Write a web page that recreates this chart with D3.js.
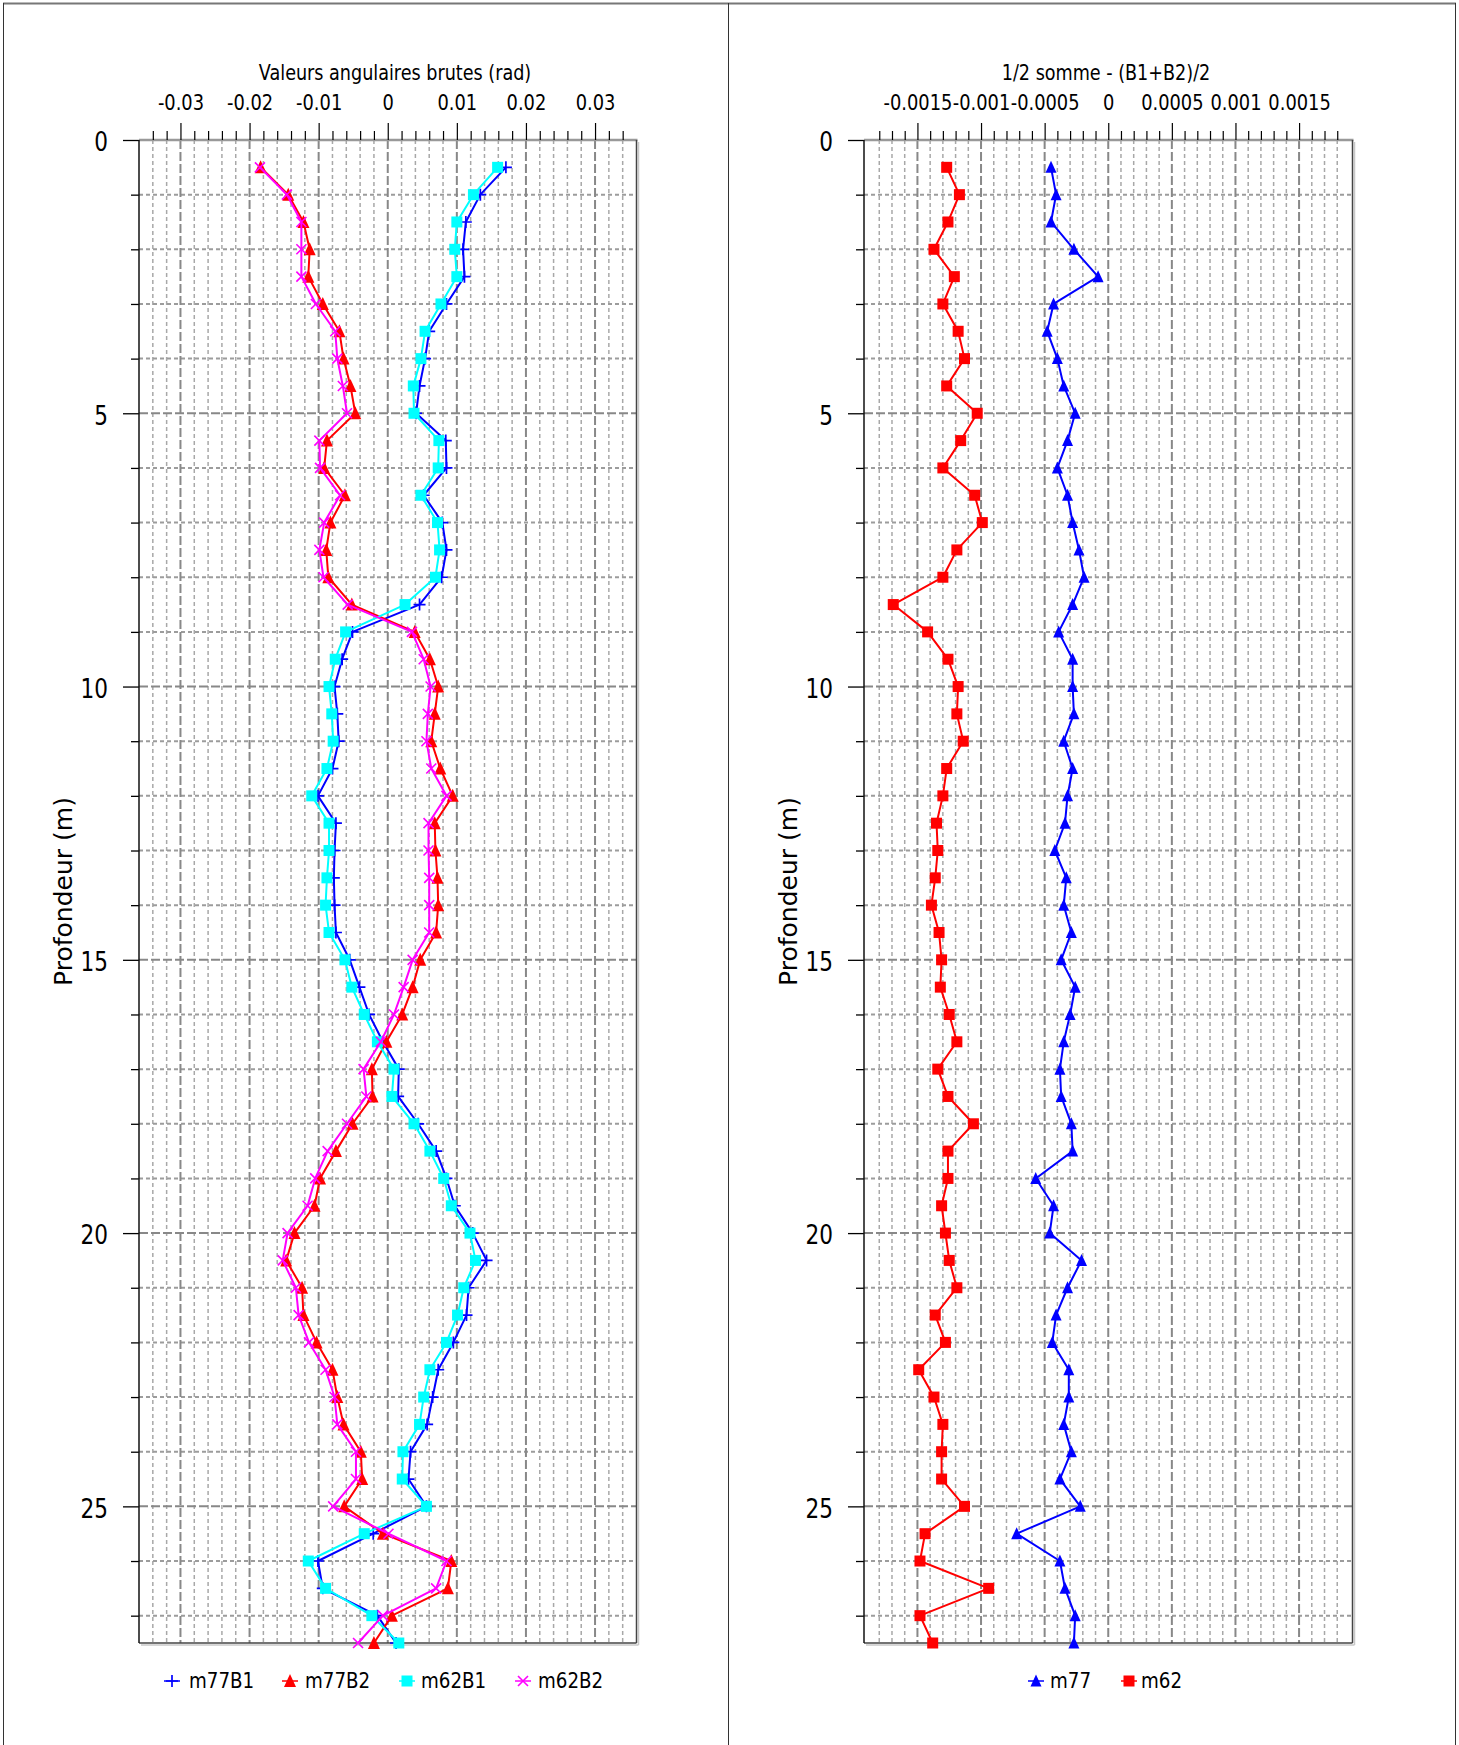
<!DOCTYPE html>
<html><head><meta charset="utf-8">
<script src="https://cdn.jsdelivr.net/npm/d3@7"></script>
<style>html,body{margin:0;padding:0;background:#fff;}svg{display:block;}</style>
</head><body>
<script>
// ---------- DATA ----------
const depth = [0.5,1,1.5,2,2.5,3,3.5,4,4.5,5,5.5,6,6.5,7,7.5,8,8.5,9,9.5,10,10.5,11,11.5,12,12.5,13,13.5,14,14.5,15,15.5,16,16.5,17,17.5,18,18.5,19,19.5,20,20.5,21,21.5,22,22.5,23,23.5,24,24.5,25,25.5,26,26.5,27,27.5];

const m77B1 = [0.0171,0.0134,0.0113,0.0109,0.0111,0.0085,0.0060,0.0054,0.0046,0.0041,0.0084,0.0085,0.0052,0.0079,0.0085,0.0078,0.0046,-0.0051,-0.0066,-0.0077,-0.0073,-0.0071,-0.0080,-0.0101,-0.0075,-0.0077,-0.0078,-0.0077,-0.0075,-0.0055,-0.0041,-0.0027,-0.0007,0.0016,0.0015,0.0044,0.0070,0.0085,0.0097,0.0123,0.0143,0.0117,0.0114,0.0095,0.0073,0.0065,0.0057,0.0033,0.0030,0.0056,-0.0021,-0.0101,-0.0094,-0.0015,0.0012];
const m77B2 = [-0.0184,-0.0144,-0.0122,-0.0113,-0.0115,-0.0094,-0.0070,-0.0064,-0.0054,-0.0047,-0.0088,-0.0092,-0.0062,-0.0083,-0.0089,-0.0086,-0.0052,0.0039,0.0061,0.0073,0.0068,0.0063,0.0076,0.0094,0.0068,0.0069,0.0072,0.0073,0.0070,0.0047,0.0036,0.0021,-0.0002,-0.0023,-0.0022,-0.0051,-0.0075,-0.0098,-0.0106,-0.0135,-0.0147,-0.0124,-0.0122,-0.0103,-0.0080,-0.0073,-0.0064,-0.0039,-0.0037,-0.0063,-0.0007,0.0092,0.0087,0.0006,-0.0020];
const m62B1 = [0.0159,0.0124,0.0100,0.0097,0.0100,0.0077,0.0054,0.0048,0.0037,0.0038,0.0074,0.0073,0.0048,0.0072,0.0075,0.0069,0.0025,-0.0061,-0.0076,-0.0085,-0.0081,-0.0079,-0.0088,-0.0110,-0.0085,-0.0085,-0.0088,-0.0090,-0.0085,-0.0062,-0.0052,-0.0034,-0.0015,0.0009,0.0006,0.0038,0.0061,0.0081,0.0092,0.0119,0.0127,0.0110,0.0101,0.0085,0.0061,0.0052,0.0046,0.0022,0.0021,0.0056,-0.0034,-0.0115,-0.0090,-0.0023,0.0016];
const m62B2 = [-0.0185,-0.0146,-0.0125,-0.0125,-0.0125,-0.0104,-0.0076,-0.0073,-0.0065,-0.0059,-0.0099,-0.0098,-0.0069,-0.0092,-0.0099,-0.0093,-0.0058,0.0035,0.0052,0.0062,0.0058,0.0056,0.0063,0.0085,0.0059,0.0059,0.0060,0.0060,0.0060,0.0036,0.0023,0.0009,-0.0010,-0.0035,-0.0031,-0.0059,-0.0087,-0.0105,-0.0116,-0.0145,-0.0152,-0.0133,-0.0129,-0.0114,-0.0090,-0.0077,-0.0073,-0.0046,-0.0046,-0.0079,0.0001,0.0085,0.0070,-0.0007,-0.0043];

const m77 = [-0.00045,-0.00041,-0.00045,-0.00027,-0.00008,-0.00043,-0.00048,-0.00040,-0.00035,-0.00026,-0.00032,-0.00040,-0.00032,-0.00028,-0.00023,-0.00019,-0.00028,-0.00039,-0.00028,-0.00028,-0.00027,-0.00035,-0.00028,-0.00032,-0.00034,-0.00042,-0.00033,-0.00035,-0.00029,-0.00037,-0.00026,-0.00030,-0.00035,-0.00038,-0.00037,-0.00029,-0.00028,-0.00057,-0.00043,-0.00046,-0.00021,-0.00032,-0.00041,-0.00044,-0.00031,-0.00031,-0.00035,-0.00029,-0.00038,-0.00022,-0.00072,-0.00038,-0.00034,-0.00026,-0.00027];
const m62 = [-0.00127,-0.00117,-0.00126,-0.00137,-0.00121,-0.00130,-0.00118,-0.00113,-0.00127,-0.00103,-0.00116,-0.00130,-0.00105,-0.00099,-0.00119,-0.00130,-0.00169,-0.00142,-0.00126,-0.00118,-0.00119,-0.00114,-0.00127,-0.00130,-0.00135,-0.00134,-0.00136,-0.00139,-0.00133,-0.00131,-0.00132,-0.00125,-0.00119,-0.00134,-0.00126,-0.00106,-0.00126,-0.00126,-0.00131,-0.00128,-0.00125,-0.00119,-0.00136,-0.00128,-0.00149,-0.00137,-0.00130,-0.00131,-0.00131,-0.00113,-0.00144,-0.00148,-0.00094,-0.00148,-0.00138];

const leftXTicks = [-0.03,-0.02,-0.01,0,0.01,0.02,0.03];
const rightXTicks = [-0.0015,-0.001,-0.0005,0,0.0005,0.001,0.0015];
const yTicks = [0,5,10,15,20,25];
const leftTitle = "Valeurs angulaires brutes (rad)";
const rightTitle = "1/2 somme - (B1+B2)/2";
const yTitle = "Profondeur (m)";

// ---------- DRAWING ----------
const W = 1459, H = 1745;
const FONT = "'DejaVu Sans', Verdana, sans-serif";
const svg = d3.select("body").append("svg").attr("width", W).attr("height", H);

// outer borders
svg.append("line").attr("x1",3).attr("x2",1456).attr("y1",3.5).attr("y2",3.5).attr("stroke","#777").attr("stroke-width",2);
[3.5, 728.5, 1455.5].forEach(x => svg.append("line").attr("x1",x).attr("x2",x).attr("y1",3).attr("y2",H).attr("stroke","#333").attr("stroke-width",1));

function label(g, x, y, s, size, sx, anchor) {
  g.append("g").attr("transform", `translate(${x},${y}) scale(${sx},1)`)
    .append("text").attr("text-anchor", anchor || "middle")
    .attr("font-family", FONT).attr("font-size", size).attr("fill", "#000").text(s);
}
const fmt = d => d === 0 ? "0" : String(+d.toFixed(5));

function panel(cfg) {
  const g = svg.append("g");
  const x = d3.scaleLinear().domain(cfg.xDomain).range([cfg.x0, cfg.x1]);
  const y = d3.scaleLinear().domain([0, 27.5]).range([140, 1643]);
  const [y0, y1] = y.range();
  const minorX = d3.range(Math.round(cfg.xDomain[0]/cfg.minorStep)+1, Math.round(cfg.xDomain[1]/cfg.minorStep)).map(i => +(i*cfg.minorStep).toFixed(6));
  const isMajorX = v => Math.abs(v/cfg.majorStep - Math.round(v/cfg.majorStep)) < 1e-6;
  const minorY = d3.range(1, 28);

  // gridlines
  const grid = g.append("g");
  minorX.filter(v => !isMajorX(v)).forEach(v => grid.append("line")
    .attr("x1", x(v)).attr("x2", x(v)).attr("y1", y0).attr("y2", y1)
    .attr("stroke", "#a8a8a8").attr("stroke-width", 1.5).attr("stroke-dasharray", "4,3"));
  minorY.filter(v => v % 5 !== 0).forEach(v => grid.append("line")
    .attr("x1", cfg.x0).attr("x2", cfg.x1).attr("y1", y(v)).attr("y2", y(v))
    .attr("stroke", "#9c9c9c").attr("stroke-width", 2).attr("stroke-dasharray", "4,3"));
  minorX.filter(isMajorX).forEach(v => grid.append("line")
    .attr("x1", x(v)).attr("x2", x(v)).attr("y1", y0).attr("y2", y1)
    .attr("stroke", "#888").attr("stroke-width", 2).attr("stroke-dasharray", "9,3"));
  minorY.filter(v => v % 5 === 0).forEach(v => grid.append("line")
    .attr("x1", cfg.x0).attr("x2", cfg.x1).attr("y1", y(v)).attr("y2", y(v))
    .attr("stroke", "#888").attr("stroke-width", 2).attr("stroke-dasharray", "9,3"));

  // frame
  g.append("line").attr("x1", cfg.x0).attr("x2", cfg.x1+1).attr("y1", y0).attr("y2", y0).attr("stroke", "#999").attr("stroke-width", 2.5);
  g.append("line").attr("x1", cfg.x1+2).attr("x2", cfg.x1+2).attr("y1", y0+2).attr("y2", y1+2).attr("stroke", "#c8c8c8").attr("stroke-width", 1.5);
  g.append("line").attr("x1", cfg.x0+2).attr("x2", cfg.x1+2).attr("y1", y1+2).attr("y2", y1+2).attr("stroke", "#c8c8c8").attr("stroke-width", 1.5);
  g.append("line").attr("x1", cfg.x1).attr("x2", cfg.x1).attr("y1", y0).attr("y2", y1).attr("stroke", "#444").attr("stroke-width", 1.5);
  g.append("line").attr("x1", cfg.x0).attr("x2", cfg.x1).attr("y1", y1).attr("y2", y1).attr("stroke", "#444").attr("stroke-width", 1.5);

  // top axis
  const ax1 = g.append("g").attr("transform", `translate(0,${y0})`)
    .call(d3.axisTop(x).tickValues(minorX.filter(v => !isMajorX(v))).tickSize(9).tickFormat(""));
  const ax2 = g.append("g").attr("transform", `translate(0,${y0})`)
    .call(d3.axisTop(x).tickValues(cfg.xTicks).tickSize(17).tickFormat(fmt));
  [ax1, ax2].forEach(a => { a.select(".domain").remove(); a.selectAll("line").attr("stroke", "#000").attr("stroke-width", 1.2); });
  ax2.selectAll("text").attr("font-family", FONT).attr("font-size", 21).attr("fill", "#000")
    .attr("y", -30).attr("dy", 0).attr("transform", "scale(0.85,1)");

  // left axis
  const ay1 = g.append("g").attr("transform", `translate(${cfg.x0},0)`)
    .call(d3.axisLeft(y).tickValues(minorY.filter(v => v % 5 !== 0)).tickSize(8).tickFormat(""));
  const ay2 = g.append("g").attr("transform", `translate(${cfg.x0},0)`)
    .call(d3.axisLeft(y).tickValues(yTicks).tickSize(16).tickFormat(d3.format("d")));
  [ay1, ay2].forEach(a => { a.select(".domain").remove(); a.selectAll("line").attr("stroke", "#000").attr("stroke-width", 1.3); });
  ay2.selectAll("text").attr("font-family", FONT).attr("font-size", 27).attr("fill", "#000")
    .attr("x", -31/0.8).attr("dy", "0.4em").attr("transform", "scale(0.8,1)");
  g.append("line").attr("x1", cfg.x0).attr("x2", cfg.x0).attr("y1", y0).attr("y2", y1).attr("stroke", "#111").attr("stroke-width", 1.5);

  // titles
  label(g, cfg.titleX, 80, cfg.title, 22, 0.8, "middle");
  g.append("text").attr("transform", `translate(${cfg.x0-76},${(y0+y1)/2}) rotate(-90)`)
    .attr("text-anchor", "middle").attr("dominant-baseline", "central")
    .attr("font-family", FONT).attr("font-size", 25).attr("fill", "#000").text(yTitle);

  // series
  const plot = g.append("g");
  cfg.series.forEach(s => {
    const pts = depth.map((d, i) => [x(s.values[i]), y(d)]);
    plot.append("path").attr("d", d3.line()(pts)).attr("fill", "none")
      .attr("stroke", s.color).attr("stroke-width", 2).attr("stroke-linejoin", "round");
    const mg = plot.append("g");
    pts.forEach(p => marker(mg, s.shape, p[0], p[1], s.color, s.size));
  });

  // legend
  cfg.series.forEach((s, i) => {
    const lx = cfg.legend[i][0], tx = cfg.legend[i][1];
    g.append("line").attr("x1", lx-8).attr("x2", lx+8).attr("y1", 1681).attr("y2", 1681)
      .attr("stroke", s.color).attr("stroke-width", 1.5);
    marker(g, s.shape, lx, 1681, s.color, s.size);
    label(g, tx, 1688, s.name, 21, 0.87, "start");
  });
}

function marker(g, shape, cx, cy, color, size) {
  const h = size/2;
  if (shape === "plus") {
    g.append("path").attr("d", `M${cx-h},${cy}H${cx+h}M${cx},${cy-h}V${cy+h}`).attr("stroke", color).attr("stroke-width", 1.7).attr("fill", "none");
  } else if (shape === "cross") {
    g.append("path").attr("d", `M${cx-h},${cy-h}L${cx+h},${cy+h}M${cx-h},${cy+h}L${cx+h},${cy-h}`).attr("stroke", color).attr("stroke-width", 1.6).attr("fill", "none");
  } else if (shape === "square") {
    g.append("rect").attr("x", cx-h).attr("y", cy-h).attr("width", size).attr("height", size).attr("fill", color);
  } else if (shape === "triangle") {
    g.append("path").attr("d", `M${cx},${cy-h-1}L${cx+h},${cy+h}L${cx-h},${cy+h}Z`).attr("fill", color);
  }
}

panel({
  x0: 139, x1: 636.5, xDomain: [-0.036, 0.036], minorStep: 0.002, majorStep: 0.01,
  xTicks: leftXTicks, title: leftTitle, titleX: 395,
  series: [
    {name: "m77B1", values: m77B1, color: "#0000ff", shape: "plus", size: 12},
    {name: "m77B2", values: m77B2, color: "#ff0000", shape: "triangle", size: 12},
    {name: "m62B1", values: m62B1, color: "#00ffff", shape: "square", size: 11},
    {name: "m62B2", values: m62B2, color: "#ff00ff", shape: "cross", size: 10}
  ],
  legend: [[172,189],[290,305],[407,421],[523,538]]
});

panel({
  x0: 864, x1: 1352.5, xDomain: [-0.00192, 0.00192], minorStep: 0.0001, majorStep: 0.0005,
  xTicks: rightXTicks, title: rightTitle, titleX: 1106,
  series: [
    {name: "m77", values: m77, color: "#0000ff", shape: "triangle", size: 11},
    {name: "m62", values: m62, color: "#ff0000", shape: "square", size: 11}
  ],
  legend: [[1036,1050],[1129,1141]]
});
</script>
</body></html>
